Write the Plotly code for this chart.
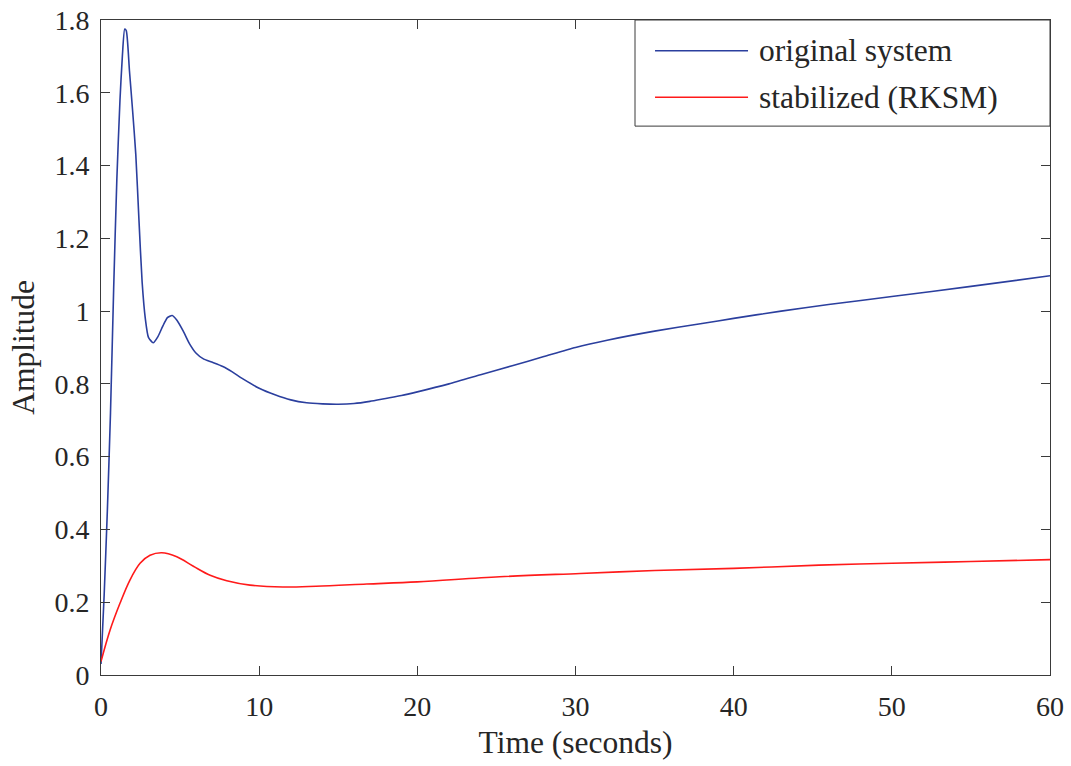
import plotly.graph_objects as go

# ---- data ----
t_orig = [0, 0.2, 0.4, 0.6, 0.8, 1.0, 1.2, 1.35, 1.5, 1.6, 1.8, 2.0, 2.2, 2.4, 2.6, 2.8, 3.0,
          3.3, 3.6, 3.9, 4.2, 4.5, 4.8, 5.2, 5.6, 6.0, 6.5, 7.0, 7.7, 8.3, 9.0, 10, 11, 12, 13,
          14, 15, 16, 17, 18, 19, 20, 22, 24, 26, 28, 30, 32, 35, 38, 40, 43, 46, 50, 55, 60]
y_orig = [0.03, 0.22, 0.45, 0.72, 1.06, 1.36, 1.58, 1.70, 1.775, 1.77, 1.66, 1.55, 1.43, 1.25, 1.08,
          0.98, 0.928, 0.913, 0.93, 0.958, 0.982, 0.988, 0.975, 0.945, 0.91, 0.885, 0.868, 0.86,
          0.848, 0.833, 0.813, 0.788, 0.77, 0.756, 0.748, 0.745, 0.744, 0.746, 0.752, 0.76, 0.768,
          0.778, 0.80, 0.825, 0.85, 0.875, 0.90, 0.92, 0.945, 0.966, 0.98, 1.0, 1.018, 1.04, 1.068,
          1.097]

t_stab = [0, 0.57, 1.2, 1.83, 2.47, 3.1, 3.84, 4.79, 5.84, 6.9, 7.95, 9.42, 11.5, 13.6, 16.8,
          20, 25.2, 30.3, 35, 40, 45.4, 50, 55, 60]
y_stab = [0.037, 0.123, 0.197, 0.261, 0.307, 0.329, 0.336, 0.325, 0.299, 0.274, 0.259, 0.247,
          0.242, 0.244, 0.25, 0.256, 0.27, 0.279, 0.287, 0.293, 0.302, 0.307, 0.312, 0.317]

x_ticks = [0, 10, 20, 30, 40, 50, 60]
y_ticks = [0, 0.2, 0.4, 0.6, 0.8, 1.0, 1.2, 1.4, 1.6, 1.8]
y_ticktext = ["0", "0.2", "0.4", "0.6", "0.8", "1", "1.2", "1.4", "1.6", "1.8"]

names = ["original system", "stabilized (RKSM)"]
colors = ["#2b3f9e", "#ff1a1a"]

FONT = "Liberation Serif"
FS_TICK = 28
FS_LABEL = 31.5
TXT = "#262626"
AXC = "#3a3a3a"

fig = go.Figure()
fig.add_trace(go.Scatter(x=t_orig, y=y_orig, mode="lines", name=names[0],
                         line=dict(color=colors[0], width=1.6, shape="spline", smoothing=0.6),
                         showlegend=False))
fig.add_trace(go.Scatter(x=t_stab, y=y_stab, mode="lines", name=names[1],
                         line=dict(color=colors[1], width=1.6, shape="spline", smoothing=1.0),
                         showlegend=False))

# legend drawn as a boxed key in the top-right corner of the axes
lx0, lx1, ly0, ly1 = 0.5627, 1.0, 0.838, 1.0
fig.add_shape(type="rect", xref="paper", yref="paper", x0=lx0, x1=lx1, y0=ly0, y1=ly1,
              line=dict(color=AXC, width=1), fillcolor="white", layer="above")
rows = [0.953, 0.882]
for name, col, ry in zip(names, colors, rows):
    fig.add_shape(type="line", xref="paper", yref="paper", x0=0.5838, x1=0.6818, y0=ry, y1=ry,
                  line=dict(color=col, width=1.6), layer="above")
    fig.add_annotation(xref="paper", yref="paper", x=0.6913, y=ry, text=name, showarrow=False,
                       xanchor="left", yanchor="middle",
                       font=dict(family=FONT, size=FS_LABEL, color=TXT))

axis_common = dict(showline=True, linecolor=AXC, linewidth=1, mirror="ticks", ticks="inside",
                   ticklen=9, tickcolor=AXC, tickwidth=1, showgrid=False, zeroline=False,
                   tickfont=dict(family=FONT, size=FS_TICK, color=TXT))

fig.update_layout(
    width=1071, height=766,
    margin=dict(l=101, r=21, t=20, b=91),
    paper_bgcolor="white", plot_bgcolor="white",
    xaxis=dict(range=[0, 60], tickvals=x_ticks, ticklabelstandoff=6,
               title=dict(text="Time (seconds)", font=dict(family=FONT, size=FS_LABEL, color=TXT),
                          standoff=10),
               **axis_common),
    yaxis=dict(range=[0, 1.8], tickvals=y_ticks, ticktext=y_ticktext, ticklabelstandoff=5,
               title=dict(text="Amplitude", font=dict(family=FONT, size=FS_LABEL, color=TXT),
                          standoff=10),
               **axis_common),
)
fig.update_xaxes(automargin=False)
fig.update_yaxes(automargin=False)

fig.write_html("out.html")
